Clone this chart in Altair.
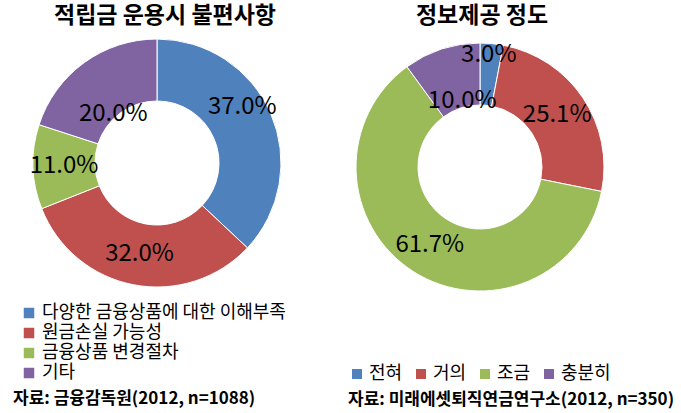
import altair as alt
import pandas as pd

FONT = "Noto Sans CJK KR"
colors = ["#4F81BD", "#C0504D", "#9BBB59", "#8064A2"]

left_title = "적립금 운용시 불편사항"
left_cats = ["다양한 금융상품에 대한 이해부족", "원금손실 가능성", "금융상품 변경절차", "기타"]
left_vals = [37.0, 32.0, 11.0, 20.0]
left_source = "자료: 금융감독원(2012, n=1088)"

right_title = "정보제공 정도"
right_cats = ["전혀", "거의", "조금", "충분히"]
right_vals = [3.0, 25.1, 61.7, 10.0]
right_source = "자료: 미래에셋퇴직연금연구소(2012, n=350)"


def text_layer(txt, x, y, size, bold, align):
    return alt.Chart(pd.DataFrame({"t": [txt]})).mark_text(
        font=FONT, fontSize=size, fontWeight="bold" if bold else "normal",
        align=align, baseline="middle", color="black"
    ).encode(text="t:N", x=alt.value(x), y=alt.value(y))


def panel(title, cats, vals, source, cx, cy, w, legend, nudges, tx, sx, sy):
    df = pd.DataFrame({"cat": cats, "value": vals, "idx": list(range(len(cats)))})
    base = alt.Chart(df)
    arc = base.mark_arc(outerRadius=124, innerRadius=62, stroke="white", strokeWidth=1).encode(
        theta=alt.Theta("value:Q", stack=True),
        color=alt.Color("cat:N", scale=alt.Scale(domain=cats, range=colors), legend=legend),
        order=alt.Order("idx:Q"),
        x=alt.value(cx), y=alt.value(cy),
    )
    lab = base.transform_window(
        cum="sum(value)", sort=[alt.SortField("idx")], frame=[None, 0]
    ).transform_calculate(
        mid="datum.cum - datum.value / 2",
        label="format(datum.value, '.1f') + '%'",
    )
    layers = [arc]
    for c in cats:
        dx, dy = nudges.get(c, (0, 0))
        layers.append(
            lab.transform_filter(alt.datum.cat == c).mark_text(
                radius=93, fontSize=24, font=FONT, color="black", dx=dx, dy=dy
            ).encode(
                theta=alt.Theta("mid:Q"),
                text="label:N",
                x=alt.value(cx), y=alt.value(cy),
            )
        )
    layers.append(text_layer(title, tx, 16, 23, True, "center"))
    layers.append(text_layer(source, sx, sy, 17, True, "left"))
    return alt.layer(*layers).properties(width=w, height=413)


left_legend = alt.Legend(
    title=None, orient="none", legendX=20, legendY=304, direction="vertical",
    symbolType="square", symbolSize=110, symbolStrokeWidth=0,
    labelFont=FONT, labelFontSize=18, labelColor="black", labelLimit=400,
    rowPadding=2, padding=0, labelOffset=4,
)
right_legend = alt.Legend(
    title=None, orient="none", legendX=8, legendY=365, direction="horizontal",
    columns=4, symbolType="square", symbolSize=100, symbolStrokeWidth=0,
    labelFont=FONT, labelFontSize=18, labelColor="black", labelLimit=400,
    columnPadding=9, padding=0, labelOffset=3,
)

left = panel(left_title, left_cats, left_vals, left_source, 157, 163, 340, left_legend,
             {"다양한 금융상품에 대한 이해부족": (0, -19), "기타": (11, 26)}, 165, 13, 399)
right = panel(right_title, right_cats, right_vals, right_source, 140, 167, 341, right_legend,
              {"전혀": (0, -19), "충분히": (11, 22)}, 142, 8, 400)

chart = alt.hconcat(left, right, spacing=0).resolve_scale(
    color="independent", theta="independent"
).configure_view(stroke=None).properties(padding=0)

chart.save("out.html", embed_options={"renderer": "svg", "actions": False})
